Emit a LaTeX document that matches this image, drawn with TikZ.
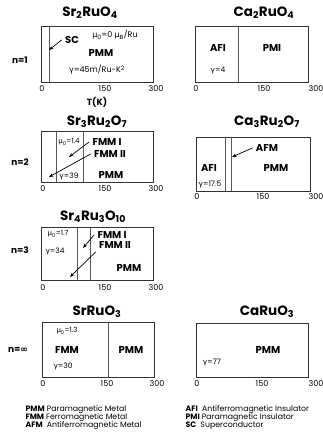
\documentclass[tikz,border=0pt]{standalone}
\usepackage{fontspec}
\setmainfont{Poppins}
\newfontfamily\grk{DejaVu Sans}
\usetikzlibrary{arrows.meta}

\newcommand{\gm}{{\grk γ}}
\newcommand{\mus}[1]{{\grk μ}\textsubscript{#1}}

\begin{document}
\begin{tikzpicture}[x=1pt,y=-1pt,>={Stealth[length=4.5pt,width=3.5pt]},line cap=round,
  frame/.style={draw=black!80,line width=0.7pt},
  split/.style={draw=black!65,line width=0.7pt},
  title/.style={font=\fontsize{13.5}{14}\selectfont\bfseries},
  phase/.style={font=\fontsize{10}{11}\selectfont\bfseries},
  small/.style={font=\fontsize{7}{8}\selectfont},
  gam/.style={font=\fontsize{7.5}{8}\selectfont},
  tick/.style={font=\fontsize{8}{9}\selectfont},
  rowlab/.style={font=\fontsize{9}{10}\selectfont\bfseries},
  legend/.style={font=\fontsize{7.8}{8}\selectfont,anchor=west}]
\path[fill=white] (0,0) rectangle (323,438);
\useasboundingbox (0,0) rectangle (323,438);

% n=1
\node[rowlab] (n1) at (20,60) {n=1};
\node[title] (sr214) at (90,13) {Sr\textsubscript{2}RuO\textsubscript{4}};
\draw[frame] (41,26) rectangle (153,82);
\draw[split] (49,26) -- (49,82);
\node[phase] (sc) at (72,40) {SC};
\coordinate (sctip) at (49,50);
\draw[->,line width=0.7pt] (sc.west) -- (sctip);
\node[small,font=\fontsize{8}{9}\selectfont] (mu214) at (115,35) {\mus{0}=0 \mus{B}/Ru};
\node[phase] (pmm214) at (101,53) {PMM};
\node[gam,font=\fontsize{8}{9}\selectfont] (g214) at (97,70) {\gm=45m/Ru-K\textsuperscript{2}};
\foreach \x/\t [count=\i] in {42/0,105/150,156/300}
  \node[tick] (ta\i) at (\x,89) {\t};
\node[rowlab] (tk) at (97,102) {T(K)};

\node[title] (ca214) at (264,13) {Ca\textsubscript{2}RuO\textsubscript{4}};
\draw[frame] (195,26) rectangle (308,82);
\draw[split] (238,26) -- (238,82);
\node[phase] (afi214) at (218,48) {AFI};
\node[phase] (pmi214) at (272,48) {PMI};
\node[gam] (gc214) at (218,71) {\gm=4};
\foreach \x/\t [count=\i] in {196/0,264/150,316/300}
  \node[tick] (tb\i) at (\x,89) {\t};

% n=2
\node[rowlab] (n2) at (20,162) {n=2};
\node[title] (sr327) at (97,122) {Sr\textsubscript{3}Ru\textsubscript{2}O\textsubscript{7}};
\draw[frame] (41,131) rectangle (153,182);
\draw[split] (56,131) -- (56,182);
\draw[split] (83,131) -- (83,182);
\node[small] (mu327) at (69,142) {\mus{0}=1.4};
\node[phase] (fa327) at (107,142) {FMM I};
\node[phase] (fb327) at (110,154) {FMM II};
\node[phase] (pmm327) at (111,175) {PMM};
\node[gam] (g327) at (69,177) {\gm=39};
\coordinate (fa327tip) at (69,157);
\coordinate (fb327tip) at (49,177);
\draw[->,line width=0.7pt] (fa327.west) -- (fa327tip);
\draw[->,line width=0.7pt] (fb327.west) -- (fb327tip);
\foreach \x/\t [count=\i] in {43/0,105/150,156/300}
  \node[tick] (tc\i) at (\x,189) {\t};

\node[title] (ca327) at (267,122) {Ca\textsubscript{3}Ru\textsubscript{2}O\textsubscript{7}};
\draw[frame] (196,137) rectangle (310,191);
\draw[split] (225,137) -- (225,191);
\draw[split] (231,137) -- (231,191);
\node[phase] (afi327) at (209,168) {AFI};
\node[gam,inner sep=0.5pt] (g327c) at (210,185) {\gm=17.5};
\node[phase] (afm327) at (267,148) {AFM};
\node[phase] (pmm327c) at (276,168) {PMM};
\coordinate (afm327tip) at (232,157);
\draw[->,line width=0.7pt] (afm327.west) -- (afm327tip);
\foreach \x/\t [count=\i] in {197/0,263/150,316/300}
  \node[tick] (td\i) at (\x,197) {\t};

% n=3
\node[rowlab] (n3) at (20,250) {n=3};
\node[title] (sr4310) at (93,217) {Sr\textsubscript{4}Ru\textsubscript{3}O\textsubscript{10}};
\draw[frame] (41,227) rectangle (153,280);
\draw[split] (77,227) -- (77,280);
\draw[split] (90,227) -- (90,280);
\node[small] (mu4310) at (58,234) {\mus{0}=1.7};
\node[gam] (g4310) at (55,252) {\gm=34};
\node[phase] (fa4310) at (112,235) {FMM I};
\node[phase] (fb4310) at (115,245) {FMM II};
\node[phase] (pmm4310) at (129,268) {PMM};
\coordinate (fa4310tip) at (83,248);
\coordinate (fb4310tip) at (70,277);
\draw[->,line width=0.7pt] (fa4310.west) -- (fa4310tip);
\draw[->,line width=0.7pt] (fb4310.south west) -- (fb4310tip);
\foreach \x/\t [count=\i] in {43/0,105/150,156/300}
  \node[tick] (te\i) at (\x,288) {\t};

% n=infinity
\node[rowlab] (ninf) at (18,350) {n={\grk ∞}};
\node[title] (sr113) at (97,312) {SrRuO\textsubscript{3}};
\draw[frame] (42,322) rectangle (154,377);
\draw[split] (108,322) -- (108,377);
\node[small] (mu113) at (67,331) {\mus{0}=1.3};
\node[phase] (fmm113) at (67,350) {FMM};
\node[gam] (g113) at (63,367) {\gm=30};
\node[phase] (pmm113) at (131,350) {PMM};
\foreach \x/\t [count=\i] in {43/0,107/150,157/300}
  \node[tick] (tf\i) at (\x,384) {\t};

\node[title] (ca113) at (267,312) {CaRuO\textsubscript{3}};
\draw[frame] (196,323) rectangle (308,377);
\node[phase] (pmm113c) at (268,350) {PMM};
\node[gam] (g113c) at (212,363) {\gm=77};
\foreach \x/\t [count=\i] in {197/0,262/150,316/300}
  \node[tick] (tg\i) at (\x,384) {\t};

% legend
\node[legend] (lg1) at (22,410) {\textbf{PMM} Paramagnetic Metal};
\node[legend] (lg2) at (22,418) {\textbf{FMM} Ferromagnetic Metal};
\node[legend] (lg3) at (22,426) {\textbf{AFM} \ Antiferromagnetic Metal};
\node[legend] (lg4) at (182,410) {\textbf{AFI} \ Antiferromagnetic Insulator};
\node[legend] (lg5) at (182,418) {\textbf{PMI} Paramagnetic Insulator};
\node[legend] (lg6) at (182,426) {\textbf{SC} \ Superconductor};
\end{tikzpicture}
\end{document}
